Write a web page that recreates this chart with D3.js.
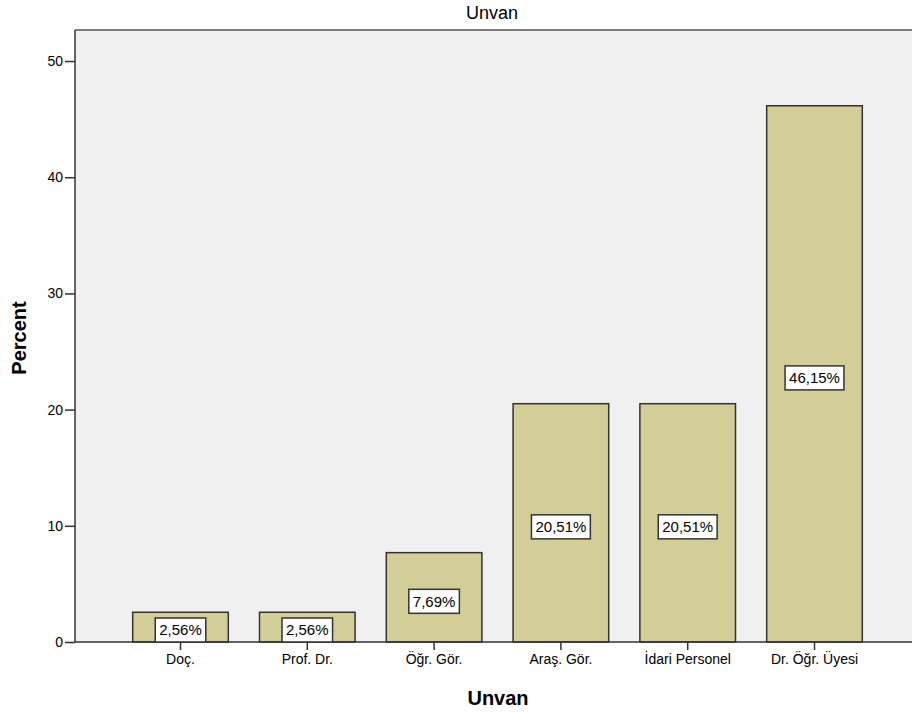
<!DOCTYPE html>
<html>
<head>
<meta charset="utf-8">
<style>
body { margin: 0; background: #fff; }
svg { font-family: "Liberation Sans", Arial, sans-serif; }
.bar { fill: #d3ce97; stroke: #333; stroke-width: 1.5; }
.axis text { font-size: 14px; fill: #000; }
.axis path, .axis line { stroke: #333; stroke-width: 1.5; }
.lbl rect { fill: #fff; stroke: #333; stroke-width: 1.5; }
.lbl text { font-size: 15px; fill: #000; }
</style>
</head>
<body>
<svg width="912" height="717"></svg>
<script src="https://cdn.jsdelivr.net/npm/d3@7"></script>
<script>
// data
var categories = ["Doç.", "Prof. Dr.", "Öğr. Gör.", "Araş. Gör.", "İdari Personel", "Dr. Öğr. Üyesi"];
var percents = [2.56, 2.56, 7.69, 20.51, 20.51, 46.15];
var yTicks = [0, 10, 20, 30, 40, 50];

var svg = d3.select("svg");
// plot box (note: "top" is reserved on window, so use pTop etc.)
var pLeft = 75, pRight = 920, pTop = 30, pBottom = 642;

var x = d3.scaleBand()
  .domain(categories)
  .range([pLeft, pRight])
  .paddingInner(0.246)
  .paddingOuter(0.455);

var y = d3.scaleLinear()
  .domain([0, 52.67])
  .range([pBottom, pTop]);

// plot background
svg.append("rect")
  .attr("x", pLeft).attr("y", pTop)
  .attr("width", pRight - pLeft).attr("height", pBottom - pTop)
  .attr("fill", "#f0f0f0");
svg.append("line")
  .attr("x1", pLeft).attr("x2", pRight)
  .attr("y1", pTop).attr("y2", pTop)
  .attr("stroke", "#555").attr("stroke-width", 1.5);

var data = categories.map(function(c, i) { return {cat: c, v: percents[i]}; });

svg.selectAll(".bar")
  .data(data)
  .enter().append("rect")
  .attr("class", "bar")
  .attr("x", function(d) { return x(d.cat); })
  .attr("width", x.bandwidth())
  .attr("y", function(d) { return y(d.v); })
  .attr("height", function(d) { return pBottom - y(d.v); });

// axes
var gx = svg.append("g")
  .attr("class", "axis")
  .attr("transform", "translate(0," + pBottom + ")")
  .call(d3.axisBottom(x).tickSizeOuter(0).tickSize(8).tickPadding(4));
gx.select(".domain").attr("d", "M" + pLeft + ",0H" + pRight);

var gy = svg.append("g")
  .attr("class", "axis")
  .attr("transform", "translate(" + pLeft + ",0)")
  .call(d3.axisLeft(y).tickValues(yTicks).tickSize(10).tickSizeOuter(0).tickPadding(2));
gy.select(".domain").attr("d", "M0," + pTop + "V" + pBottom);

// value labels
var lbl = svg.selectAll(".lbl")
  .data(data)
  .enter().append("g")
  .attr("class", "lbl");

lbl.each(function(d) {
  var g = d3.select(this);
  var t = g.append("text")
    .attr("text-anchor", "middle")
    .attr("dy", "0.35em")
    .text(d.v.toFixed(2).replace(".", ",") + "%");
  var w = t.node().getComputedTextLength() + 8;
  var h = 24;
  var cy = y(d.v / 2) + 4;
  if (cy + h / 2 > pBottom) cy = pBottom - h / 2;
  var cx = x(d.cat) + x.bandwidth() / 2;
  g.insert("rect", "text")
    .attr("x", cx - w / 2).attr("y", cy - h / 2)
    .attr("width", w).attr("height", h);
  t.attr("x", cx).attr("y", cy);
});

// titles
svg.append("text")
  .attr("x", 492).attr("y", 19)
  .attr("text-anchor", "middle")
  .style("font-size", "18px")
  .text("Unvan");

svg.append("text")
  .attr("x", 498).attr("y", 705)
  .attr("text-anchor", "middle")
  .style("font-size", "20px").style("font-weight", "bold")
  .text("Unvan");

svg.append("text")
  .attr("transform", "translate(26,338) rotate(-90)")
  .attr("text-anchor", "middle")
  .style("font-size", "20px").style("font-weight", "bold")
  .text("Percent");
</script>
</body>
</html>
